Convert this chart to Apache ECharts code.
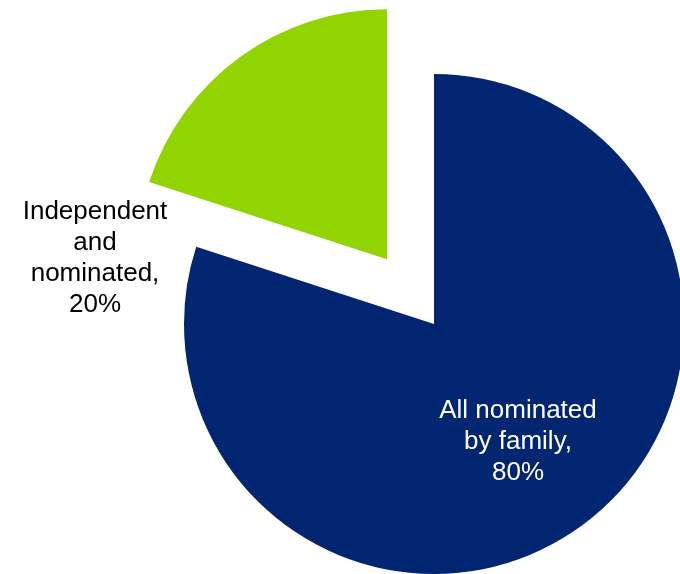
<!DOCTYPE html>
<html>
<head>
<meta charset="utf-8">
<script src="https://cdn.jsdelivr.net/npm/echarts@6/dist/echarts.min.js"></script>
<style>
  html, body { margin: 0; padding: 0; background: #ffffff; }
  #chart { width: 680px; height: 574px; }
</style>
</head>
<body>
<div id="chart"></div>
<script>
// Board nomination breakdown
const categories = ['All nominated\nby family', 'Independent\nand\nnominated'];
const shares = [80, 20];
const sliceColors = ['#002672', '#92D400'];
const labelColors = ['#ffffff', '#000000'];
const explodedIndex = 1;
// label anchor points (px) for each slice
const labelAnchors = [[518, 442], [95, 258]];

const NONE = 'rgba(0,0,0,0)';
const pieBase = {
  type: 'pie',
  center: [434, 324],
  radius: [0, 250],
  startAngle: 90,
  clockwise: true,
  avoidLabelOverlap: false,
  labelLine: { show: false },
  emphasis: { disabled: true }
};

const chart = echarts.init(document.getElementById('chart'), null, { renderer: 'canvas' });

chart.setOption({
  animation: false,
  series: [
    // main pie: the large slice and both labels
    Object.assign({}, pieBase, {
      label: {
        show: true,
        position: 'outside',
        formatter: p => p.name + ',\n' + p.value + '%',
        fontFamily: '"Liberation Sans", Arial, sans-serif',
        fontSize: 26,
        lineHeight: 31,
        align: 'center'
      },
      labelLayout: p => ({
        x: labelAnchors[p.dataIndex][0],
        y: labelAnchors[p.dataIndex][1],
        align: 'center',
        verticalAlign: 'middle'
      }),
      data: categories.map((name, i) => ({
        name: name,
        value: shares[i],
        itemStyle: { color: i === explodedIndex ? NONE : sliceColors[i] },
        label: { color: labelColors[i] }
      }))
    }),
    // pulled-out slice
    Object.assign({}, pieBase, {
      silent: true,
      selectedMode: 'single',
      selectedOffset: 80,
      label: { show: false },
      data: categories.map((name, i) => ({
        name: name,
        value: shares[i],
        selected: i === explodedIndex,
        itemStyle: { color: i === explodedIndex ? sliceColors[i] : NONE }
      }))
    })
  ]
});
</script>
</body>
</html>
